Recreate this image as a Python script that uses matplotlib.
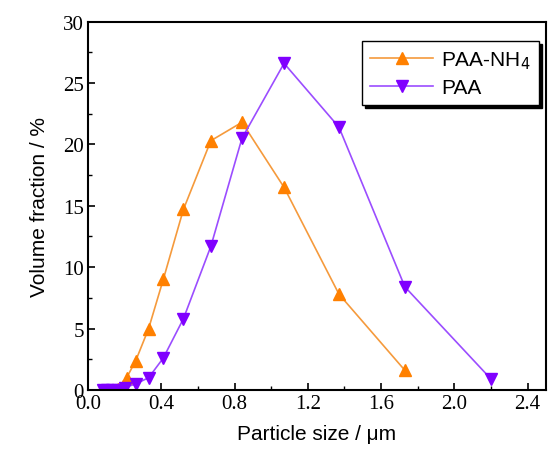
import matplotlib
matplotlib.use('Agg')
import matplotlib.pyplot as plt
from matplotlib.ticker import MultipleLocator

# particle size (um) and volume fraction (%)
size_nh4 = [0.10, 0.13, 0.16, 0.19, 0.21, 0.26, 0.33, 0.41, 0.52, 0.67, 0.84, 1.07, 1.37, 1.73]
frac_nh4 = [0.0, 0.0, 0.1, 0.3, 1.0, 2.4, 5.0, 9.0, 14.7, 20.3, 21.8, 16.5, 7.8, 1.6]

size_paa = [0.08, 0.10, 0.13, 0.16, 0.20, 0.26, 0.33, 0.41, 0.52, 0.67, 0.84, 1.07, 1.37, 1.73, 2.20]
frac_paa = [0.0, 0.0, 0.0, 0.0, 0.2, 0.5, 1.0, 2.6, 5.8, 11.7, 20.5, 26.6, 21.4, 8.4, 0.9]

fig = plt.figure(figsize=(5.48, 4.52), dpi=100)
ax = fig.add_axes([0.161, 0.135, 0.835, 0.815])

ax.plot(size_nh4, frac_nh4, color='#F59A3C', lw=1.2, marker='^', ms=8,
        mfc='#FF8000', mec='#FF8000', label='PAA-NH$_4$')
ax.plot(size_paa, frac_paa, color='#9B4DFF', lw=1.2, marker='v', ms=8,
        mfc='#8000FF', mec='#8000FF', label='PAA')

ax.set_xlim(0, 2.5)
ax.set_ylim(0, 30)
ax.xaxis.set_major_locator(MultipleLocator(0.4))
ax.xaxis.set_minor_locator(MultipleLocator(0.2))
ax.yaxis.set_major_locator(MultipleLocator(5))
ax.yaxis.set_minor_locator(MultipleLocator(2.5))
ax.xaxis.set_major_formatter(matplotlib.ticker.FormatStrFormatter('%.1f'))
ax.tick_params(which='both', direction='in', top=False, right=False)
ax.tick_params(which='major', length=5, width=1.2, labelsize=15, pad=3)
ax.tick_params(which='minor', length=3, width=1.0)
for lab in ax.get_xticklabels() + ax.get_yticklabels():
    lab.set_fontfamily('Liberation Serif')
for sp in ax.spines.values():
    sp.set_linewidth(1.5)

ax.set_xlabel('Particle size / \u03bcm', fontsize=15, family='Liberation Sans', labelpad=8)
ax.set_ylabel('Volume fraction / %', fontsize=15, family='Liberation Sans', labelpad=10)

leg = ax.legend(loc='upper right', bbox_to_anchor=(0.985, 0.948), borderaxespad=0,
                fancybox=False, shadow={'color': 'black', 'alpha': 1.0},
                edgecolor='black', framealpha=1,
                prop={'family': 'Liberation Sans', 'size': 15},
                handlelength=3.0, handletextpad=0.4, borderpad=0.4, labelspacing=0.35)
leg.get_frame().set_linewidth(1.0)

fig.savefig('out.png', dpi=100)
